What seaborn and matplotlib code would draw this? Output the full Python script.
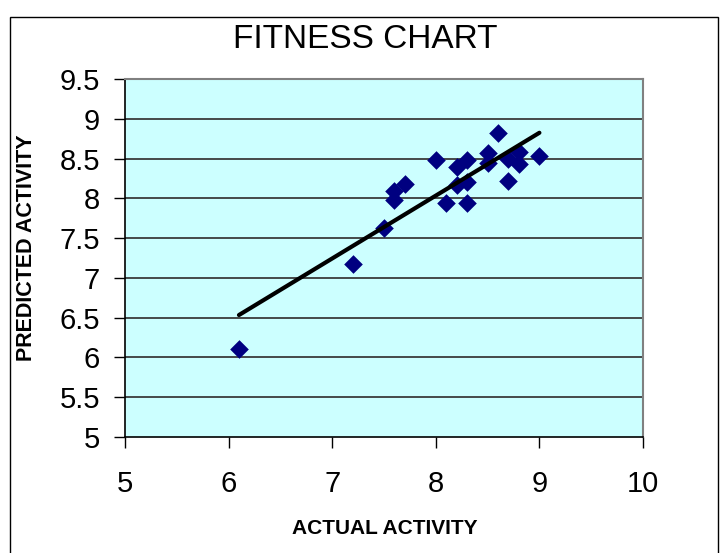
import numpy as np
import matplotlib
matplotlib.use("Agg")
from matplotlib import pyplot as plt
from matplotlib.patches import Rectangle
from matplotlib.ticker import FuncFormatter
import seaborn as sns

# actual vs predicted activity
actual = [6.1, 7.2, 7.5, 7.6, 7.6, 7.7, 8.0, 8.1, 8.2, 8.2, 8.3,
          8.3, 8.3, 8.5, 8.5, 8.6, 8.7, 8.7, 8.8, 8.8, 9.0]
predicted = [6.1, 7.17, 7.63, 7.98, 8.09, 8.18, 8.48, 7.94, 8.40, 8.17, 8.48,
             8.20, 7.94, 8.57, 8.44, 8.82, 8.50, 8.22, 8.58, 8.43, 8.53]
xticks = [5, 6, 7, 8, 9, 10]
yticks = [5, 5.5, 6, 6.5, 7, 7.5, 8, 8.5, 9, 9.5]

sns.set_style("white", {'text.color': 'black', 'xtick.color': 'black',
                        'ytick.color': 'black', 'axes.labelcolor': 'black'})
plt.rcParams['font.family'] = ['Liberation Sans', 'DejaVu Sans']

W, H = 720, 553
fig = plt.figure(figsize=(W / 100, H / 100), dpi=100)
ax = fig.add_axes([125 / W, 1 - 437 / H, (643 - 125) / W, (437 - 79) / H])
ax.set_facecolor('#CCFFFF')

#horizontal gridlines
for yv in yticks[1:-1]:
    ax.axhline(yv, color='#3a3a3a', lw=1.3, zorder=0)

sns.regplot(x=actual, y=predicted, ax=ax, ci=None, marker='D', truncate=True,
            scatter_kws={'color': '#000080', 's': 90, 'alpha': 1, 'linewidths': 0},
            line_kws={'color': 'black', 'lw': 3})

ax.set_xlim(5, 10)
ax.set_ylim(5, 9.5)
ax.set_xticks(xticks)
ax.set_yticks(yticks)
ax.yaxis.set_major_formatter(FuncFormatter(lambda v, p: f"{v:g}"))
ax.tick_params(axis='both', direction='out', length=8, width=1, color='black',
               labelcolor='black', labelsize=21, pad=10, left=True, bottom=True)
ax.tick_params(axis='x', pad=16)
for s in ['left', 'bottom']:
    ax.spines[s].set_color('black')
    ax.spines[s].set_linewidth(1.2)
for s in ['top', 'right']:
    ax.spines[s].set_color('#808080')
    ax.spines[s].set_linewidth(1.5)

fig.text(365 / W, 1 - 40 / H, 'FITNESS CHART', ha='center', va='center',
         fontsize=24, color='black')
fig.text(385 / W, 1 - 529 / H, 'ACTUAL ACTIVITY', ha='center', va='center',
         fontsize=15, fontweight='bold', color='black')
fig.text(27 / W, 1 - 248 / H, 'PREDICTED ACTIVITY', ha='center', va='center',
         rotation=90, fontsize=15.5, fontweight='bold', color='black')

# outer chart frame
fig.patches.append(Rectangle((10 / W, -0.05), 708 / W, 1.05 - 17 / H, fill=False,
                             edgecolor='black', lw=1, transform=fig.transFigure))

fig.savefig('out.png', dpi=100)
